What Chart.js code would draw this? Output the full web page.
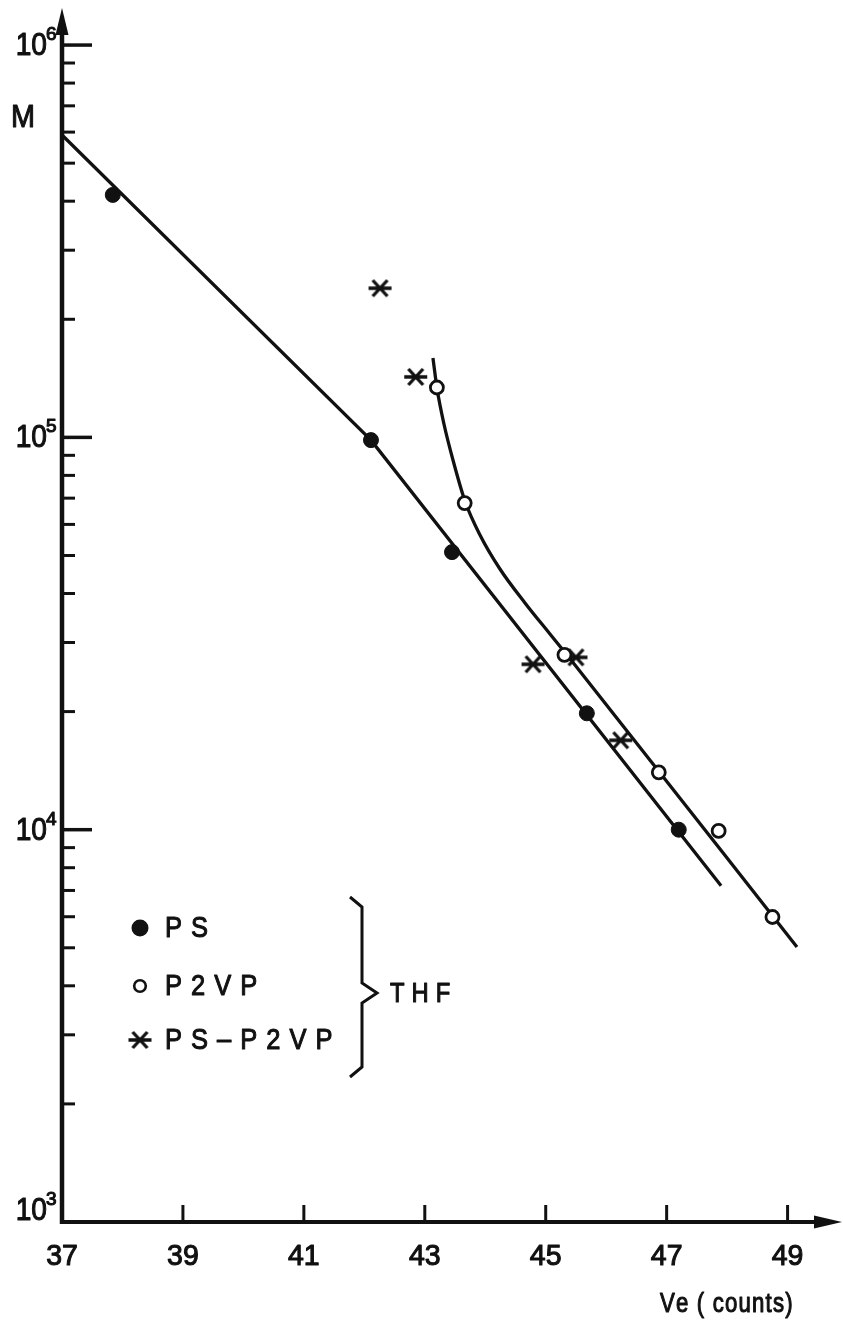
<!DOCTYPE html>
<html><head><meta charset="utf-8">
<script src="https://cdn.jsdelivr.net/npm/chart.js@4/dist/chart.umd.min.js"></script>
<style>html,body{margin:0;padding:0;background:#fff;overflow:hidden}canvas{display:block}</style>
</head><body><canvas id="c" width="843" height="1322" style="width:843px;height:1322px"></canvas>
<script>
// ---- data ----
const psVe   = [37.84, 42.11, 43.45, 45.68, 47.20];
const psM    = [415000, 98400, 51000, 19800, 10000];
const p2vpVe = [43.20, 43.66, 45.31, 46.87, 47.86, 48.75];
const p2vpM  = [134000, 68000, 27900, 14000, 9930, 5990];
const blockVe = [42.26, 42.85, 44.79, 45.50, 46.24];
const blockM  = [240000, 142600, 26400, 27500, 16900];
// drawn calibration lines
const psFitVe = [37.0, 42.11, 47.90];
const psFitM  = [590000, 98400, 7200];
const p2vpFitVe = [43.135, 43.201, 43.317, 43.466, 43.664, 43.913, 44.243, 44.657, 45.070, 45.484, 49.155];
const p2vpFitM  = [159400, 133640, 108170, 87570, 68860, 56390, 46180, 37840, 31540, 26290, 5023];
// axes
const xMin = 37, xMax = 49.9;
const yMin = 1000, yMax = 1243000;
const xTickLabels = [37, 39, 41, 43, 45, 47, 49];
const yMajorTicks = [1000, 10000, 100000, 1000000];
const yMinorMultipliers = [2, 3, 4, 5, 6, 7, 8, 9];
const legendLabels = ['PS', 'P2VP', 'PS\u2013P2VP'];
const solventLabel = 'THF';
const xTitle = 'Ve ( counts)';
const yTitle = 'M';

const ink = '#111';
const pts = (xs, ys) => xs.map((v, i) => ({x: v, y: ys[i]}));

function makeStar(w, h, lw) {
  const c = document.createElement('canvas');
  c.width = w + 4; c.height = h + 4;
  const g = c.getContext('2d');
  g.strokeStyle = ink; g.lineWidth = lw; g.lineCap = 'butt';
  const cx = c.width / 2, cy = c.height / 2, dx = w * 0.32, dy = h / 2;
  g.beginPath();
  g.moveTo(cx - w / 2, cy); g.lineTo(cx + w / 2, cy);
  g.moveTo(cx - dx, cy - dy); g.lineTo(cx + dx, cy + dy);
  g.moveTo(cx + dx, cy - dy); g.lineTo(cx - dx, cy + dy);
  g.stroke();
  return c;
}
const starImg = makeStar(23, 16, 3.3);

// text with a thin outline to mimic the heavy printed strokes
function txt(ctx, s, x, y, sx) {
  ctx.save(); ctx.translate(x, y); ctx.scale(sx, 1);
  ctx.lineWidth = 1.1; ctx.lineJoin = 'round';
  ctx.fillText(s, 0, 0); ctx.strokeText(s, 0, 0);
  ctx.restore();
}
function spaced(ctx, str, x, y, spacing, sx) {
  let cx = x;
  for (const ch of str) {
    txt(ctx, ch, cx, y, sx);
    cx += ctx.measureText(ch).width * sx + spacing;
  }
}

const decor = {
  id: 'decor',
  beforeDatasetsDraw(chart) {
    const {ctx, chartArea: a, scales: {x, y}} = chart;
    const x0 = x.getPixelForValue(xMin), y0 = y.getPixelForValue(yMin);
    ctx.save();
    ctx.strokeStyle = ink; ctx.fillStyle = ink; ctx.lineCap = 'butt';
    // y axis + arrow
    ctx.lineWidth = 4.5;
    ctx.beginPath(); ctx.moveTo(x0, y0 + 2); ctx.lineTo(x0, a.top + 20); ctx.stroke();
    ctx.beginPath(); ctx.moveTo(x0, a.top); ctx.lineTo(x0 - 6.5, a.top + 27); ctx.lineTo(x0 + 6.5, a.top + 27); ctx.closePath(); ctx.fill();
    // x axis + arrow
    ctx.lineWidth = 4;
    ctx.beginPath(); ctx.moveTo(x0 - 2, y0); ctx.lineTo(a.right - 20, y0); ctx.stroke();
    ctx.beginPath(); ctx.moveTo(a.right, y0); ctx.lineTo(a.right - 28, y0 - 6.5); ctx.lineTo(a.right - 28, y0 + 6.5); ctx.closePath(); ctx.fill();
    // y ticks (inward)
    for (let d = 0; d < yMajorTicks.length; d++) {
      const v = yMajorTicks[d];
      const py = y.getPixelForValue(v);
      if (d > 0) {
        ctx.lineWidth = 3.5;
        ctx.beginPath(); ctx.moveTo(x0, py); ctx.lineTo(x0 + 30, py); ctx.stroke();
      }
      if (d < yMajorTicks.length - 1) {
        for (const m of yMinorMultipliers) {
          const pm = y.getPixelForValue(v * m);
          ctx.lineWidth = 3;
          ctx.beginPath(); ctx.moveTo(x0, pm); ctx.lineTo(x0 + 13, pm); ctx.stroke();
        }
      }
      // label 10^n
      const exp = Math.round(Math.log10(v));
      const base = Math.min(py + 10, y0 - 2);
      ctx.font = '32px "Liberation Sans", Arial, sans-serif';
      ctx.textAlign = 'right'; ctx.textBaseline = 'alphabetic';
      txt(ctx, '10', 47, base, 0.88);
      ctx.font = '19px "Liberation Sans", Arial, sans-serif';
      ctx.textAlign = 'left';
      txt(ctx, String(exp), 46, base - 15, 1);
    }
    // x ticks (upward) + labels
    ctx.font = '30px "Liberation Sans", Arial, sans-serif';
    ctx.textAlign = 'center'; ctx.textBaseline = 'middle';
    for (const t of xTickLabels) {
      const px = x.getPixelForValue(t);
      if (t !== xMin) {
        ctx.lineWidth = 3;
        ctx.beginPath(); ctx.moveTo(px, y0); ctx.lineTo(px, y0 - 17); ctx.stroke();
      }
      txt(ctx, String(t), px, y0 + 35, 0.95);
    }
    // axis titles
    ctx.font = '32px "Liberation Sans", Arial, sans-serif';
    ctx.textAlign = 'center'; ctx.textBaseline = 'middle';
    txt(ctx, yTitle, 23, a.top + 110, 0.9);
    ctx.font = '27px "Liberation Sans", Arial, sans-serif';
    ctx.textAlign = 'left'; ctx.textBaseline = 'alphabetic';
    spaced(ctx, xTitle, 660, y0 + 90, 1.2, 0.82);
    ctx.restore();
  },
  afterDraw(chart) {
    const {ctx} = chart;
    ctx.save();
    ctx.fillStyle = ink; ctx.strokeStyle = ink;
    const rows = [928, 986, 1040];
    // markers
    ctx.beginPath(); ctx.arc(140, rows[0], 8.5, 0, Math.PI * 2); ctx.fill();
    ctx.lineWidth = 2.6;
    ctx.beginPath(); ctx.arc(140, rows[1], 5.8, 0, Math.PI * 2); ctx.stroke();
    ctx.drawImage(starImg, 140 - starImg.width / 2, rows[2] - starImg.height / 2);
    // labels
    ctx.font = '30px "Liberation Sans", Arial, sans-serif';
    ctx.textAlign = 'left'; ctx.textBaseline = 'middle';
    legendLabels.forEach((s, i) => spaced(ctx, s, 165, rows[i] + 1, 9, 0.85));
    // brace
    ctx.lineWidth = 3; ctx.lineJoin = 'miter';
    ctx.beginPath();
    ctx.moveTo(350, 897); ctx.lineTo(362, 907); ctx.lineTo(362, 983); ctx.lineTo(377, 993);
    ctx.lineTo(362, 1003); ctx.lineTo(362, 1067); ctx.lineTo(350, 1077);
    ctx.stroke();
    ctx.font = '28px "Liberation Sans", Arial, sans-serif';
    spaced(ctx, solventLabel, 390, 994, 7, 0.85);
    ctx.restore();
  }
};

new Chart(document.getElementById('c'), {
  type: 'scatter',
  data: {
    datasets: [
      {label: 'PS line', type: 'line', data: pts(psFitVe, psFitM), borderColor: ink, borderWidth: 3.3,
       pointRadius: 0, tension: 0, fill: false, order: 3, clip: false},
      {label: 'P2VP line', type: 'line', data: pts(p2vpFitVe, p2vpFitM), borderColor: ink, borderWidth: 3.3,
       pointRadius: 0, cubicInterpolationMode: 'monotone', fill: false, order: 3, clip: false},
      {label: 'PS', data: pts(psVe, psM), pointStyle: 'circle', pointRadius: 7.5,
       backgroundColor: ink, borderColor: ink, borderWidth: 1, order: 1, clip: false},
      {label: 'P2VP', data: pts(p2vpVe, p2vpM), pointStyle: 'circle', pointRadius: 6.5,
       backgroundColor: '#fff', borderColor: ink, borderWidth: 2.8, order: 1, clip: false},
      {label: 'PS-P2VP', data: pts(blockVe, blockM), pointStyle: starImg, pointRadius: 10,
       backgroundColor: ink, borderColor: ink, order: 1, clip: false}
    ]
  },
  options: {
    responsive: false, animation: false, devicePixelRatio: 1,
    layout: {autoPadding: false, padding: {left: 62, right: 1, top: 8, bottom: 100}},
    plugins: {legend: {display: false}, tooltip: {enabled: false}},
    scales: {
      x: {type: 'linear', min: xMin, max: xMax, display: false},
      y: {type: 'logarithmic', min: yMin, max: yMax, display: false}
    }
  },
  plugins: [decor]
});
</script></body></html>
